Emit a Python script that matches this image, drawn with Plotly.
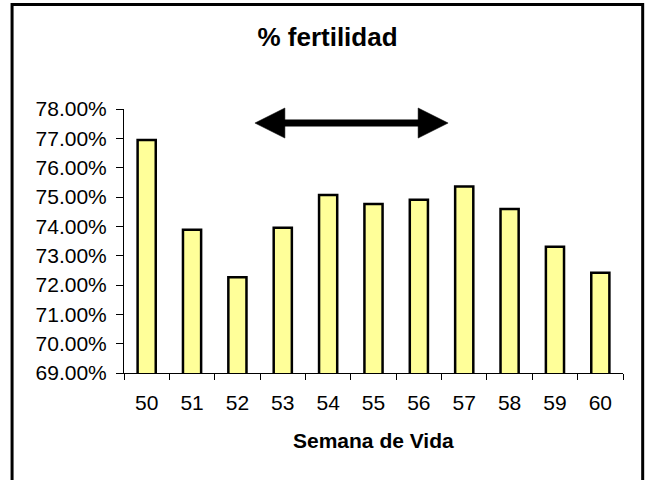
import plotly.graph_objects as go

# ---- data ----
weeks = ["50", "51", "52", "53", "54", "55", "56", "57", "58", "59", "60"]
fertility = [0.7694, 0.7388, 0.7226, 0.7395, 0.7507, 0.7476, 0.7491, 0.7536, 0.7459, 0.7330, 0.7242]
y_ticks = [0.69, 0.70, 0.71, 0.72, 0.73, 0.74, 0.75, 0.76, 0.77, 0.78]
title_text = "% fertilidad"
x_title = "Semana de Vida"

# ---- layout geometry (pixels) ----
W, H = 650, 480
L, R, T, B = 124, 26.7, 109.3, 107.3
pw = W - L - R
ph = H - T - B


def fx(px):
    return (px - L) / pw


def fy(py):
    return (H - B - py) / ph


FONT = "Liberation Sans, Arial, sans-serif"

fig = go.Figure()
fig.add_trace(go.Bar(
    x=weeks, y=fertility,
    marker=dict(color="#FFFF99", line=dict(color="black", width=2.5)),
))

shapes = []
# outer frame
shapes.append(dict(type="rect", xref="paper", yref="paper",
                   x0=fx(12), x1=fx(643), y0=fy(5), y1=fy(500),
                   line=dict(color="black", width=3), fillcolor="rgba(0,0,0,0)", layer="below"))
# double-headed arrow
ay = 123.3
shapes.append(dict(type="line", xref="paper", yref="paper",
                   x0=fx(282), x1=fx(421), y0=fy(ay), y1=fy(ay),
                   line=dict(color="black", width=7)))
left_head = "M {:.5f},{:.5f} L {:.5f},{:.5f} L {:.5f},{:.5f} Z".format(
    fx(255), fy(ay), fx(285), fy(108.3), fx(285), fy(138.3))
right_head = "M {:.5f},{:.5f} L {:.5f},{:.5f} L {:.5f},{:.5f} Z".format(
    fx(448.3), fy(ay), fx(418.3), fy(108.3), fx(418.3), fy(138.3))
for p in (left_head, right_head):
    shapes.append(dict(type="path", xref="paper", yref="paper", path=p,
                       fillcolor="black", line=dict(color="black", width=0.5)))

fig.update_layout(
    width=W, height=H,
    margin=dict(l=L, r=R, t=T, b=B, autoexpand=False),
    paper_bgcolor="white", plot_bgcolor="white",
    showlegend=False,
    bargap=0.6,
    font=dict(family=FONT, color="black"),
    title=dict(text="<b>" + title_text + "</b>", font=dict(size=26, family=FONT, color="black"),
               x=327.5 / W, xref="container", xanchor="center",
               y=1 - 37 / H, yref="container", yanchor="middle"),
    shapes=shapes,
    annotations=[dict(text="<b>" + x_title + "</b>", xref="paper", yref="paper",
                      x=0.5, y=fy(440), xanchor="center", yanchor="middle",
                      showarrow=False, font=dict(size=21, family=FONT, color="black"))],
    xaxis=dict(type="category", showline=True, linecolor="black", linewidth=1,
               ticks="outside", tickson="boundaries", ticklen=6, tickcolor="black",
               ticklabelstandoff=11,
               tickfont=dict(size=21, family=FONT, color="black"), showgrid=False,
               zeroline=False, fixedrange=True),
    yaxis=dict(range=[0.69, 0.78], tickvals=y_ticks, tickformat=".2%",
               showline=True, linecolor="black", linewidth=1,
               ticks="outside", ticklen=7, tickcolor="black",
               ticklabelstandoff=5,
               tickfont=dict(size=21, family=FONT, color="black"), showgrid=False,
               zeroline=False, fixedrange=True),
)

fig.write_html("out.html",
               config={"displayModeBar": False},
               post_script="document.body.style.margin='0';document.body.style.overflow='hidden';")
